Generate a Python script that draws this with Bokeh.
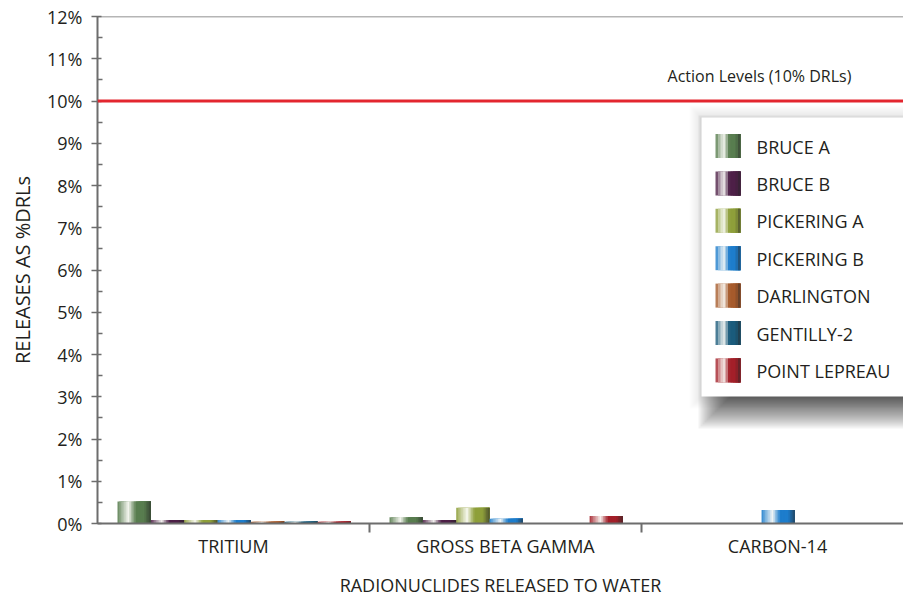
import numpy as np
from bokeh.plotting import figure
from bokeh.models import Range1d, FixedTicker, Span, ColumnDataSource
from bokeh.core.properties import value
from bokeh.embed import file_html
from bokeh.resources import INLINE

# ---------------- data ----------------
CATEGORIES = ["TRITIUM", "GROSS BETA GAMMA", "CARBON-14"]
SERIES = ["BRUCE A", "BRUCE B", "PICKERING A", "PICKERING B",
          "DARLINGTON", "GENTILLY-2", "POINT LEPREAU"]
BRUCE_A = [0.52, 0.15, 0.0]
BRUCE_B = [0.08, 0.08, 0.0]
PICKERING_A = [0.08, 0.37, 0.0]
PICKERING_B = [0.08, 0.11, 0.32]
DARLINGTON = [0.04, 0.0, 0.0]
GENTILLY_2 = [0.04, 0.0, 0.0]
POINT_LEPREAU = [0.04, 0.18, 0.0]
SERIES_VALUES = [BRUCE_A, BRUCE_B, PICKERING_A, PICKERING_B,
                 DARLINGTON, GENTILLY_2, POINT_LEPREAU]
SERIES_COLORS = ["#587d4f", "#4d1f47", "#8e9f3a", "#1d7dcc",
                 "#a65a2b", "#1a5b7c", "#a31f29"]
Y_TICKS = list(range(13))
Y_TICK_LABELS = ["0%", "1%", "2%", "3%", "4%", "5%", "6%",
                 "7%", "8%", "9%", "10%", "11%", "12%"]
ACTION_LEVEL = 10
ACTION_LABEL = "Action Levels (10% DRLs)"
Y_TITLE = "RELEASES AS %DRLs"
X_TITLE = "RADIONUCLIDES RELEASED TO WATER"

# ---------------- layout ----------------
W, H = 903, 600
ML, MR, MT, MB = 97, 0, 16, 77
FW, FH = W - ML - MR, H - MT - MB
CAT_PX = 272.0
GROUP_PAD = 20.0 / CAT_PX
BAR_W = 33.35 / CAT_PX
AXIS_COLOR = "#6d6d6d"
TEXT_COLOR = "#231f20"
FONT = "Open Sans"
N_STRIPS = 20

STOPS_T = [0.0, 0.15, 0.33, 0.46, 0.56, 0.80, 0.90, 1.0]
STOPS_A = [0.08, 0.50, 0.95, 0.35, 0.0, 0.0, -0.35, -0.62]


def hex2rgb(h):
    h = h.lstrip("#")
    return tuple(int(h[i:i + 2], 16) for i in (0, 2, 4))


def shade(base, t):
    r, g, b = hex2rgb(base)
    a = float(np.interp(t, STOPS_T, STOPS_A))
    if a >= 0:
        tgt = (252, 252, 248)
    else:
        tgt = (38, 38, 38)
        a = -a
    c = [int(round(v + (w - v) * a)) for v, w in zip((r, g, b), tgt)]
    return "#%02x%02x%02x" % tuple(c)


p = figure(width=W, height=H, output_backend="svg", toolbar_location=None,
           x_range=Range1d(0, FW / CAT_PX), y_range=Range1d(0, 12),
           min_border_left=ML, min_border_right=MR, min_border_top=MT,
           min_border_bottom=MB)
p.extra_x_ranges = {"px": Range1d(0, FW)}
p.extra_y_ranges = {"px": Range1d(0, FH)}
p.outline_line_color = None
p.grid.visible = False
p.background_fill_color = "white"
p.border_fill_color = "white"

# ---------------- bars (shaded as cylinders) ----------------
bl, br, bt, bc = [], [], [], []
for j, (vals, col) in enumerate(zip(SERIES_VALUES, SERIES_COLORS)):
    for i, v in enumerate(vals):
        if v <= 0:
            continue
        x0 = i + GROUP_PAD + j * BAR_W
        for k in range(N_STRIPS):
            bl.append(x0 + k * BAR_W / N_STRIPS)
            br.append(x0 + BAR_W)
            bt.append(v)
            bc.append(shade(col, (k + 0.5) / N_STRIPS))
p.quad(left="l", right="r", top="t", bottom=0, fill_color="c", line_color=None,
       source=ColumnDataSource(dict(l=bl, r=br, t=bt, c=bc)))

# ---------------- action level ----------------
p.add_layout(Span(location=ACTION_LEVEL, dimension="width",
                  line_color="#e3262f", line_width=3))
p.add_layout(Span(location=12, dimension="width",
                  line_color=AXIS_COLOR, line_width=1.5))
p.text(x=[662], y=[447.5], text=[ACTION_LABEL], x_range_name="px", y_range_name="px",
       text_font=value(FONT), text_font_size="16px", text_color=TEXT_COLOR,
       text_align="center", text_baseline="middle")

# ---------------- legend (pixel space) ----------------
LEG_L, LEG_R, LEG_T, LEG_B = 604, FW + 30, 406, 127
# faint glow
gl, gr, gt, gb = [], [], [], []
for e in range(12, 0, -1):
    gl.append(LEG_L - e); gr.append(LEG_R + e); gt.append(LEG_T + e); gb.append(LEG_B - e)
p.quad(left=gl, right=gr, top=gt, bottom=gb, fill_color="black", fill_alpha=0.008,
       line_color=None, x_range_name="px", y_range_name="px")
# drop shadow
DX, DY, BLUR = 14, -15, 17
sl, sr, st, sb = [], [], [], []
for e in range(BLUR, -BLUR - 1, -2):
    sl.append(LEG_L + DX - e); sr.append(LEG_R + DX + e)
    st.append(LEG_T + DY + e); sb.append(LEG_B + DY - e)
p.quad(left=sl, right=sr, top=st, bottom=sb, fill_color="black", fill_alpha=0.05,
       line_color=None, x_range_name="px", y_range_name="px")
p.quad(left=[LEG_L], right=[LEG_R], top=[LEG_T], bottom=[LEG_B], fill_color="white",
       line_color=None, x_range_name="px", y_range_name="px")

SW_L, SW_W, SW_H = 618, 25, 24
CY0, CSTEP = 377.5, 37.4
ll, lr, lt, lb, lc = [], [], [], [], []
tx, ty = [], []
for j, col in enumerate(SERIES_COLORS):
    cy = CY0 - j * CSTEP
    for k in range(10):
        ll.append(SW_L + k * SW_W / 10); lr.append(SW_L + SW_W)
        lt.append(cy + SW_H / 2); lb.append(cy - SW_H / 2)
        lc.append(shade(col, (k + 0.5) / 10))
    tx.append(659); ty.append(cy - 0.5)
p.quad(left=ll, right=lr, top=lt, bottom=lb, fill_color=lc, line_color=None,
       x_range_name="px", y_range_name="px")
p.text(x=tx, y=ty, text=SERIES, x_range_name="px", y_range_name="px",
       text_font=value(FONT), text_font_size="18px", text_color=TEXT_COLOR,
       text_align="left", text_baseline="middle")

# ---------------- axes ----------------
xa = p.xaxis[0]
xa.ticker = FixedTicker(ticks=[i + 0.5 for i in range(len(CATEGORIES))],
                        minor_ticks=[float(i) for i in range(1, len(CATEGORIES))])
xa.major_label_overrides = {i + 0.5: c for i, c in enumerate(CATEGORIES)}
xa.major_tick_out = 0
xa.major_tick_in = 0
xa.minor_tick_out = 9
xa.minor_tick_in = 0
xa.minor_tick_line_color = AXIS_COLOR
xa.minor_tick_line_width = 2
xa.axis_line_color = AXIS_COLOR
xa.axis_line_width = 2
xa.major_label_standoff = 1
xa.major_label_text_font = FONT
xa.major_label_text_font_size = "18px"
xa.major_label_text_color = TEXT_COLOR
xa.axis_label = X_TITLE
xa.axis_label_standoff = 12
xa.axis_label_text_font = FONT
xa.axis_label_text_font_size = "18px"
xa.axis_label_text_font_style = "normal"
xa.axis_label_text_color = TEXT_COLOR

ya = p.yaxis[0]
ya.ticker = FixedTicker(ticks=Y_TICKS, minor_ticks=[t + 0.5 for t in Y_TICKS[:-1]])
ya.major_label_overrides = {t: s for t, s in zip(Y_TICKS, Y_TICK_LABELS)}
ya.major_tick_out = 6
ya.major_tick_in = 4
ya.minor_tick_out = 0
ya.minor_tick_in = 5
ya.major_tick_line_color = AXIS_COLOR
ya.minor_tick_line_color = AXIS_COLOR
ya.major_tick_line_width = 1.5
ya.minor_tick_line_width = 1.5
ya.axis_line_color = AXIS_COLOR
ya.axis_line_width = 2
ya.major_label_standoff = 9
ya.major_label_text_font = FONT
ya.major_label_text_font_size = "18px"
ya.major_label_text_color = TEXT_COLOR
ya.axis_label = Y_TITLE
ya.axis_label_standoff = 8
ya.axis_label_text_font = FONT
ya.axis_label_text_font_size = "20px"
ya.axis_label_text_font_style = "normal"
ya.axis_label_text_color = TEXT_COLOR

open("out.html", "w").write(file_html(p, INLINE))
